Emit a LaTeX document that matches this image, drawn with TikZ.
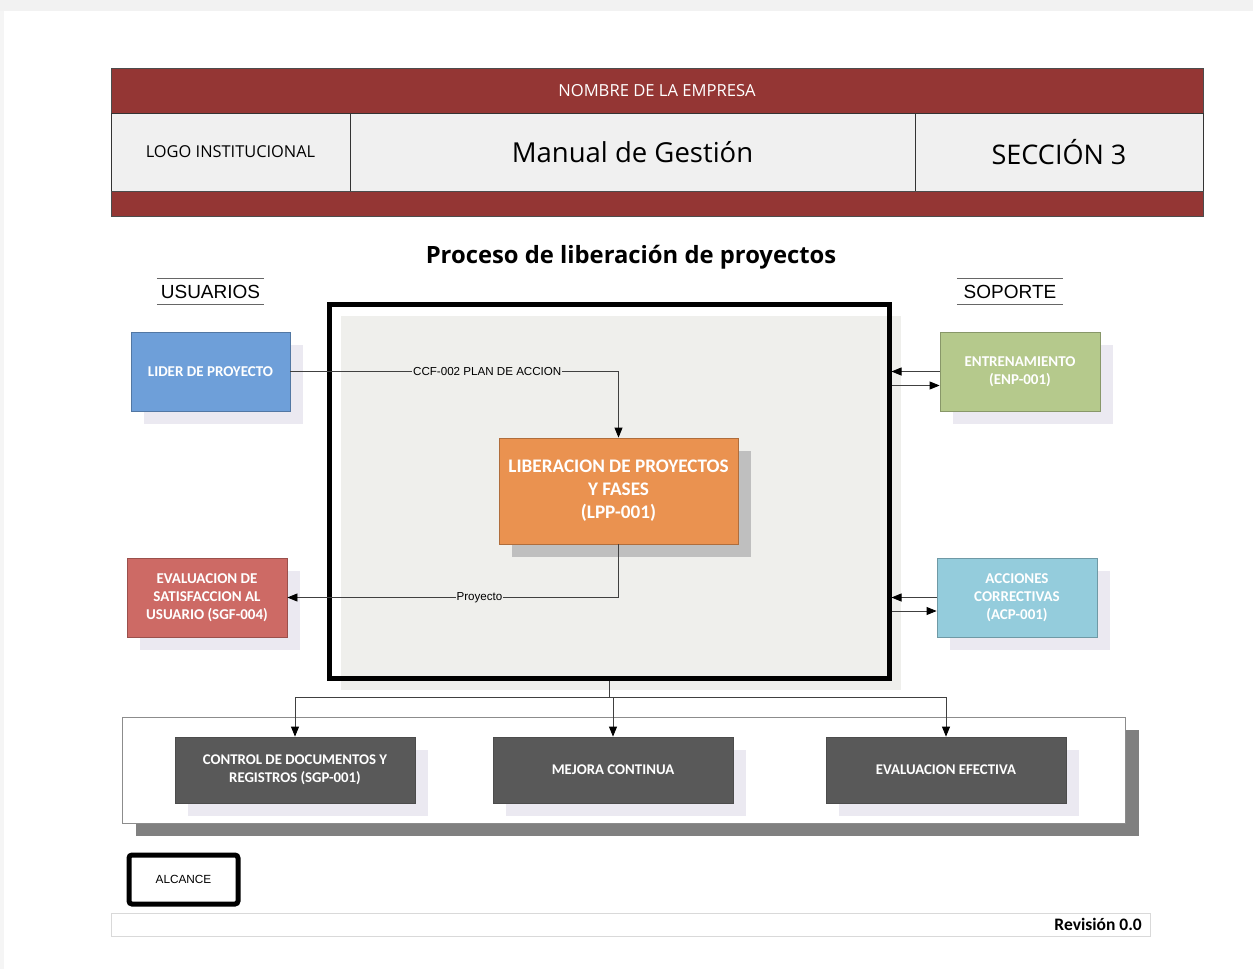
\documentclass[tikz,border=0pt]{standalone}
\usepackage{fontspec}
\setmainfont{Carlito}
\newfontfamily\osans{Open Sans}
\newfontfamily\arial{Liberation Sans}
\usetikzlibrary{shadows,arrows.meta}

\definecolor{hdrred}{HTML}{943634}
\definecolor{hdrgray}{HTML}{F0F0F0}
\definecolor{mainfill}{HTML}{EFEFEC}
\definecolor{lav}{HTML}{EBE9F1}
\definecolor{blu}{HTML}{6E9FD9}
\definecolor{org}{HTML}{EA9250}
\definecolor{rdb}{HTML}{CD6A65}
\definecolor{grn}{HTML}{B5C98C}
\definecolor{cyn}{HTML}{94CCDC}
\definecolor{drk}{HTML}{595959}
\definecolor{conn}{HTML}{404040}

\tikzset{
  sh/.style={general shadow={fill=#1,shadow xshift=13pt,shadow yshift=-13pt}},
  cell/.style={draw=black!80,line width=0.8pt,fill=hdrgray,inner sep=0pt},
  band/.style={fill=hdrred,draw=black!70,line width=0.8pt,inner sep=0pt},
  colbox/.style={draw=#1!75!black,fill=#1,line width=0.8pt,text=white,
    font=\bfseries\fontsize{15}{18}\selectfont,align=center,inner sep=1pt,
    minimum width=159pt,minimum height=79pt,sh=lav},
  darkbox/.style={draw=black!70,fill=drk,line width=0.8pt,text=white,
    font=\bfseries\fontsize{14.8}{18}\selectfont,align=center,inner sep=1pt,
    minimum width=240pt,minimum height=66pt,sh=lav},
  wire/.style={draw=conn,line width=0.8pt},
  arr/.style={wire,-{Triangle[length=10pt,width=8pt,black]}},
  lbl/.style={fill=mainfill,inner sep=1pt,font=\arial\fontsize{11.6}{13}\selectfont},
  grouptitle/.style={font=\arial\fontsize{19}{22}\selectfont,minimum width=107pt,minimum height=25pt,inner sep=0pt}
}

\begin{document}
\begin{tikzpicture}[x=1pt,y=-1pt]
\useasboundingbox (0,0) rectangle (1253,969);
% faint page edge
\fill[black!5] (0,0) rectangle (1253,11);
\fill[black!4] (0,11) rectangle (4,969);

% ---------- header table ----------
\node[band,minimum width=1092pt,minimum height=45pt,text=white,
  font=\osans\fontsize{16.6}{19}\selectfont] (empresa) at (657,90.5) {NOMBRE DE LA EMPRESA};
\node[cell,minimum width=239pt,minimum height=78pt,font=\osans\fontsize{16.4}{19}\selectfont]
  (logo) at (230.5,152) {LOGO INSTITUCIONAL};
\node[cell,minimum width=565pt,minimum height=78pt,font=\osans\fontsize{27.5}{30}\selectfont]
  (manual) at (632.5,152) {Manual de Gestión};
\node[cell,minimum width=288pt,minimum height=78pt,font=\osans\fontsize{27}{30}\selectfont]
  (seccion) at (1059,152) {SECCIÓN 3};
\node[band,minimum width=1092pt,minimum height=25pt] (pie) at (657,203.5) {};

% ---------- title ----------
\node[font=\osans\bfseries\fontsize{23.8}{26}\selectfont] (titulo) at (631,257)
  {Proceso de liberación de proyectos};

\node[grouptitle] (usr) at (210.5,291.5) {USUARIOS};
\draw[black!60,line width=0.8pt] (usr.north west) -- (usr.north east) (usr.south west) -- (usr.south east);
\node[grouptitle,minimum width=106pt] (sop) at (1010,291.5) {SOPORTE};
\draw[black!60,line width=0.8pt] (sop.north west) -- (sop.north east) (sop.south west) -- (sop.south east);

% ---------- central process area ----------
\node[draw=black,line width=5pt,minimum width=560pt,minimum height=374pt,inner sep=0pt,
  general shadow={fill=mainfill,shadow xshift=12pt,shadow yshift=-12pt}] (main) at (609,491) {};

\node[draw=org!75!black,fill=org,line width=0.8pt,text=white,align=center,
  font=\bfseries\fontsize{19.2}{23}\selectfont,minimum width=239pt,minimum height=106pt,
  inner sep=1pt,sh=black!25] (lib) at (618.5,491) {LIBERACION DE PROYECTOS\\Y FASES\\(LPP-001)};

% ---------- users ----------
\node[colbox=blu] (lider) at (210.5,371.5) {LIDER DE PROYECTO};
\node[colbox=rdb,minimum width=160pt] (evs) at (207,597.5) {EVALUACION DE\\SATISFACCION AL\\USUARIO (SGF-004)};

% ---------- support ----------
\node[colbox=grn,minimum width=160pt] (ent) at (1020,371.5) {ENTRENAMIENTO\\(ENP-001)};
\node[colbox=cyn,minimum width=160pt] (acp) at (1017,597.5) {ACCIONES\\CORRECTIVAS\\(ACP-001)};

% ---------- lower panel ----------
\node[draw=black!45,fill=white,line width=0.8pt,minimum width=1003pt,minimum height=106pt,
  general shadow={fill=black!50,shadow xshift=14pt,shadow yshift=-13pt}] (panel) at (623.5,770) {};
\node[darkbox] (ctrl) at (295,770) {CONTROL DE DOCUMENTOS Y\\REGISTROS (SGP-001)};
\node[darkbox] (mej) at (613,770) {MEJORA CONTINUA};
\node[darkbox] (efe) at (946,770) {EVALUACION EFECTIVA};

% ---------- connectors ----------
\draw[arr] (lider.east) -| (lib.north) node[lbl,pos=0.3] {CCF-002 PLAN DE ACCION};
\draw[arr] (lib.south) |- (evs.east) node[lbl,pos=0.71] {Proyecto};

\coordinate (e2) at ([yshift=-14pt]ent.west);
\draw[arr] (ent.west) -- (ent.west -| main.east);
\draw[arr] (e2 -| main.east) -- (e2);
\coordinate (a2) at ([yshift=-13.5pt]acp.west);
\draw[arr] (acp.west) -- (acp.west -| main.east);
\draw[arr] (a2 -| main.east) -- (a2);

\coordinate (j) at (609,697);
\draw[wire] (main.south) -- (j);
\draw[arr] (j) -| (ctrl.north);
\draw[arr] (j) -| (mej.north);
\draw[arr] (j) -| (efe.north);

% ---------- scope and footer ----------
\node[draw=black,line width=5pt,rounded corners=3pt,minimum width=109pt,minimum height=49pt,
  font=\arial\fontsize{11.8}{13}\selectfont] (alc) at (183.5,879.5) {ALCANCE};
\node[draw=black!15,line width=0.8pt,minimum width=1039pt,minimum height=23pt] (foot) at (630.5,924.5) {};
\node[anchor=east,font=\bfseries\fontsize{17.5}{19}\selectfont,inner sep=0pt] (rev) at (1142,924.5) {Revisión 0.0};
\end{tikzpicture}
\end{document}
